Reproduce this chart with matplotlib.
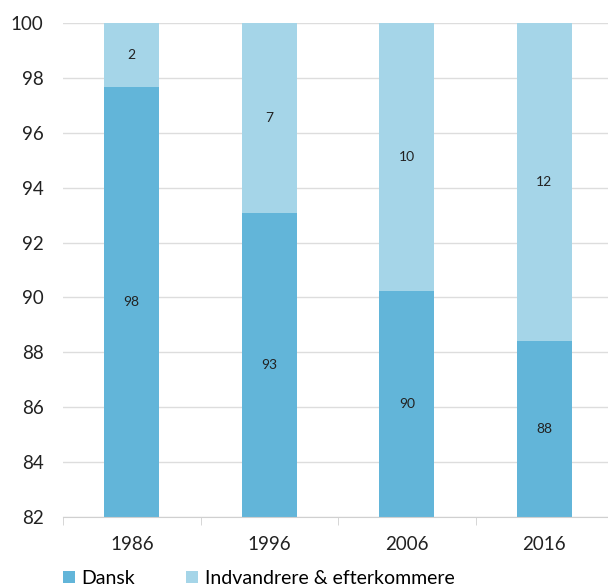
import matplotlib
matplotlib.use('Agg')
import matplotlib.pyplot as plt
import numpy as np

years = ['1986', '1996', '2006', '2016']
dansk = [97.67, 93.08, 90.24, 88.41]
indvandrere = [2.33, 6.92, 9.76, 11.59]
dansk_labels = ['98', '93', '90', '88']
indv_labels = ['2', '7', '10', '12']

dark = '#62B5D9'
light = '#A5D5E8'

plt.rcParams['font.family'] = ['Lato', 'DejaVu Sans']

fig = plt.figure(figsize=(6.08, 5.85), dpi=100)
ax = fig.add_axes([63 / 608, 68 / 585, 550 / 608, 494 / 585])

x = np.arange(len(years))
ymin = 82
b1 = ax.bar(x, np.array(dansk) - ymin, bottom=ymin, width=0.4, color=dark, zorder=2,
            label='Dansk')
b2 = ax.bar(x, indvandrere, bottom=dansk, width=0.4, color=light, zorder=2,
            label='Indvandrere & efterkommere')

for i in range(len(years)):
    ax.text(x[i], (ymin + dansk[i]) / 2, dansk_labels[i], ha='center', va='center',
            fontsize=10, color='#222222', zorder=3)
    ax.text(x[i], (dansk[i] + 100) / 2, indv_labels[i], ha='center', va='center',
            fontsize=10, color='#222222', zorder=3)

ax.set_ylim(82, 100)
ax.set_yticks(range(82, 101, 2))
ax.set_xlim(-0.5, 3.5)
ax.set_xticks(x)
ax.set_xticklabels(years)
ax.set_xticks([-0.5, 0.5, 1.5, 2.5, 3.5], minor=True)
ax.tick_params(axis='x', which='major', length=0, pad=14, labelsize=13.5, labelcolor='#222222')
ax.tick_params(axis='x', which='minor', length=6, color='#d0d0d0')
ax.tick_params(axis='y', length=0, pad=14, labelsize=13.5, labelcolor='#222222')
ax.grid(axis='y', color='#dddddd', linewidth=1, zorder=0)

for s in ['left', 'right', 'top']:
    ax.spines[s].set_visible(False)
ax.spines['bottom'].set_color('#d0d0d0')

fig.legend(handles=[b1, b2], loc='lower left', bbox_to_anchor=(63 / 608, -2 / 585),
           ncol=2, frameon=False, fontsize=14, handlelength=0.6, handleheight=0.6,
           handletextpad=0.36, columnspacing=2.6, borderpad=0, borderaxespad=0)

fig.savefig('out.png', dpi=100)
